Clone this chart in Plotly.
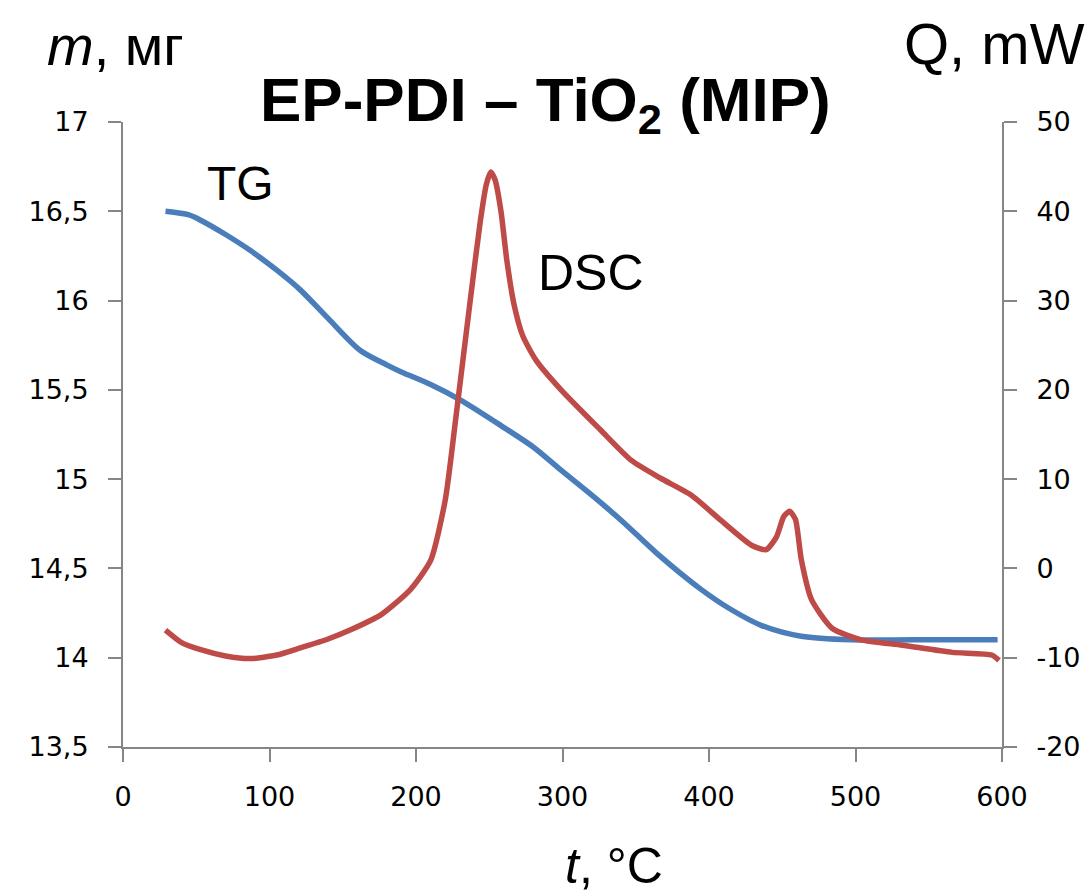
import plotly.graph_objects as go

# TG curve (mass, mg) vs temperature
tg_t = [29, 45, 53, 70, 87, 105, 121, 140, 162, 180, 190, 210, 231, 258, 280, 299, 320, 340, 365, 395, 415, 436, 463, 497, 540, 597]
tg_m = [16.50, 16.48, 16.45, 16.37, 16.28, 16.17, 16.06, 15.90, 15.72, 15.64, 15.60, 15.53, 15.44, 15.30, 15.18, 15.05, 14.91, 14.77, 14.58, 14.38, 14.27, 14.18, 14.12, 14.10, 14.10, 14.10]

# DSC curve (heat flow, mW) vs temperature
dsc_t = [29, 40, 53, 70, 87, 105, 121, 140, 155, 176, 196, 210, 220, 227, 237, 244, 248, 251, 254, 258, 262, 267, 273, 282, 299, 326, 347, 367, 388, 408, 429, 439, 446, 451, 455, 459, 463, 470, 484, 504, 532, 566, 593, 598]
dsc_q = [-6.9, -8.3, -9.1, -9.8, -10.1, -9.7, -8.9, -7.9, -6.9, -5.2, -2.4, 0.9, 7.7, 16.6, 30.0, 39.0, 43.0, 44.4, 43.5, 40.0, 34.5, 29.5, 26.0, 23.3, 20.0, 15.5, 12.1, 10.1, 8.2, 5.4, 2.6, 2.1, 3.5, 5.8, 6.4, 5.5, 1.0, -3.5, -6.7, -8.0, -8.6, -9.4, -9.7, -10.3]

x_ticks = [0, 100, 200, 300, 400, 500, 600]
y_left_ticks = [13.5, 14, 14.5, 15, 15.5, 16, 16.5, 17]
y_left_text = ["13,5", "14", "14,5", "15", "15,5", "16", "16,5", "17"]
y_right_ticks = [-20, -10, 0, 10, 20, 30, 40, 50]
y_right_text = ["-20", "-10", "0", "10", "20", "30", "40", "50"]

BLUE = "#4A7EBB"
RED = "#BE4B48"
AXIS = "#868686"
TICKFONT = dict(family="DejaVu Sans, Verdana", size=27, color="#000000")
SANS = "Liberation Sans, Arial"

fig = go.Figure()
fig.add_trace(go.Scatter(x=tg_t, y=tg_m, mode="lines", line=dict(color=BLUE, width=5.5, shape="spline", smoothing=0.8),
                         name="TG", showlegend=False, yaxis="y"))
fig.add_trace(go.Scatter(x=dsc_t, y=dsc_q, mode="lines", line=dict(color=RED, width=5.5, shape="spline", smoothing=0.6),
                         name="DSC", showlegend=False, yaxis="y2"))

fig.update_layout(
    width=1091, height=895,
    margin=dict(l=123, r=89, t=122, b=148),
    plot_bgcolor="white", paper_bgcolor="white",
    xaxis=dict(range=[0, 600], tickvals=x_ticks, ticks="outside", ticklen=13, tickwidth=2, tickcolor=AXIS,
               showline=True, linecolor=AXIS, linewidth=2, showgrid=False, zeroline=False,
               tickfont=TICKFONT, ticklabelstandoff=12, automargin=False),
    yaxis=dict(range=[13.5, 17], tickvals=y_left_ticks, ticktext=y_left_text, ticks="outside", ticklen=13,
               tickwidth=2, tickcolor=AXIS, showline=True, linecolor=AXIS, linewidth=2, showgrid=False,
               zeroline=False, tickfont=TICKFONT, ticklabelstandoff=14, automargin=False),
    yaxis2=dict(range=[-20, 50], tickvals=y_right_ticks, ticktext=y_right_text, overlaying="y", side="right",
                ticks="outside", ticklen=13, tickwidth=2, tickcolor=AXIS, showline=True, linecolor=AXIS,
                linewidth=2, showgrid=False, zeroline=False, tickfont=TICKFONT, ticklabelstandoff=14,
                automargin=False),
)

ann = [
    dict(text="<i>m</i>, мг", x=45, y=45, size=56),
    dict(text="Q, mW", x=1087, y=44, xanchor="right", size=58),
    dict(text="<b>EP-PDI – TiO<sub>2</sub> (MIP)</b>", x=545, y=104, xanchor="center", size=62),
    dict(text="TG", x=205, y=183, size=48),
    dict(text="DSC", x=536, y=273, size=50),
    dict(text="<i>t</i>, °C", x=614, y=866, xanchor="center", size=50),
]
for a in ann:
    fig.add_annotation(
        text=a["text"], showarrow=False, xref="paper", yref="paper",
        x=(a["x"] - 123) / (1002 - 123), y=(747 - a["y"]) / (747 - 122),
        xanchor=a.get("xanchor", "left"), yanchor="middle",
        font=dict(family=SANS, size=a["size"], color="#000000"),
    )

fig.write_html("out.html")
